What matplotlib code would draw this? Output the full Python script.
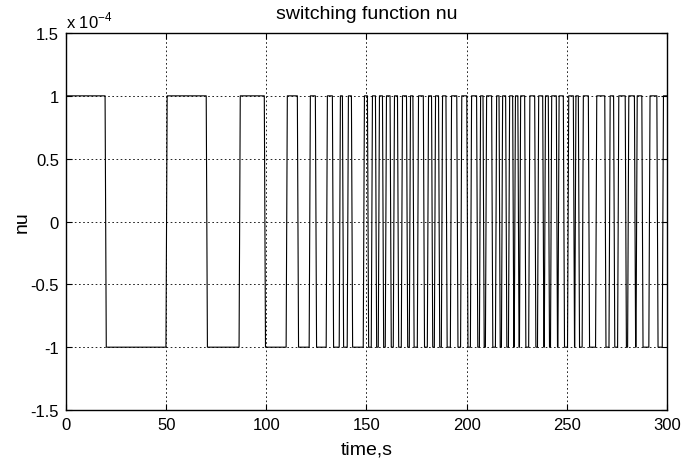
import numpy as np
import matplotlib.pyplot as plt
from matplotlib.ticker import FuncFormatter

plt.rcParams['font.family'] = ['Liberation Sans', 'DejaVu Sans']
plt.rcParams['mathtext.fontset'] = 'custom'
plt.rcParams['mathtext.rm'] = 'Liberation Sans'
plt.rcParams['axes.unicode_minus'] = False

# switching function data (units of 1e-4): times where nu reaches +1 and leaves +1
high_on = [0.0, 50.5, 87.0, 110.5, 122.0, 130.5, 137.0, 141.0, 149.0, 153.0,
           156.5, 160.0, 164.0, 168.0, 172.0, 176.0, 181.0, 184.5, 188.0, 192.5,
           197.6, 202.5, 207.0, 210.0, 215.0, 218.0, 221.5, 224.4, 227.0, 231.6,
           236.0, 239.4, 242.5, 246.2, 251.0, 254.6, 258.3, 265.0, 271.7, 276.0,
           281.0, 285.2, 291.6, 298.3]
high_off = [19.5, 70.0, 99.0, 115.5, 124.5, 133.0, 138.0, 142.5, 150.5, 154.5,
            158.0, 161.8, 165.5, 170.0, 173.2, 178.4, 182.5, 186.0, 189.7, 195.1,
            200.1, 205.0, 208.2, 212.5, 216.2, 219.5, 223.0, 225.6, 229.0, 234.0,
            238.0, 240.8, 244.8, 248.3, 253.3, 255.8, 260.8, 269.0, 273.4, 279.2,
            283.8, 287.5, 295.0, 300.0]
nu_high, nu_low = 1.0, -1.0
ramp = 0.6

t, nu = [], []
for i, (on, off) in enumerate(zip(high_on, high_off)):
    if i > 0:
        t.append(on - ramp); nu.append(nu_low)
    t += [on, off]; nu += [nu_high, nu_high]
    if i < len(high_on) - 1:
        t.append(off + ramp); nu.append(nu_low)
t = np.array(t)
nu = np.array(nu)

fig = plt.figure(figsize=(6.82, 4.64), dpi=100)
ax = fig.add_axes([0.0968, 0.1142, 0.881, 0.8125])

ax.plot(t, nu, color='black', lw=0.8)

ax.set_xlim(0, 300)
ax.set_ylim(-1.5, 1.5)
ax.set_xticks(np.arange(0, 301, 50))
ax.set_yticks([-1.5, -1, -0.5, 0, 0.5, 1, 1.5])
ax.yaxis.set_major_formatter(FuncFormatter(lambda v, p: '%g' % v))
ax.grid(True, color='black', linestyle=(0, (2, 3)), linewidth=0.6)
ax.tick_params(direction='in', top=True, right=True, length=4, labelsize=12, pad=5)
for s in ax.spines.values():
    s.set_linewidth(1.0)

ax.text(0.0, 1.008, r'x 10$^{-4}$', transform=ax.transAxes, fontsize=12,
        ha='left', va='bottom')
ax.set_title('switching function nu', fontsize=14, pad=11)
ax.set_xlabel('time,s', fontsize=14, labelpad=6)
ax.set_ylabel('nu', fontsize=14, labelpad=0)

plt.savefig('out.png', dpi=100)
